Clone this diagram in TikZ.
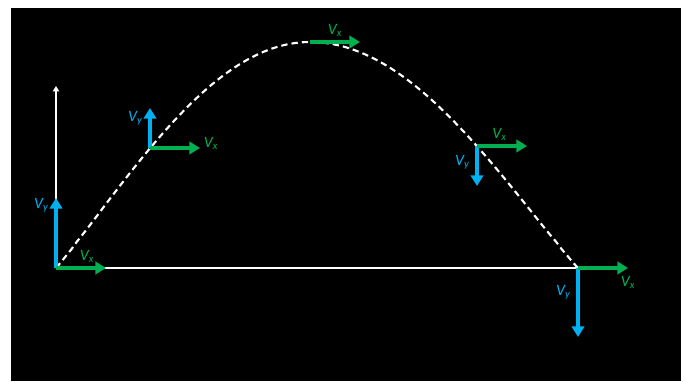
\documentclass[tikz,border=0pt]{standalone}
\usepackage{fontspec}
\setmainfont{Carlito}
\usepackage{xcolor}
\definecolor{pjblue}{RGB}{0,176,240}
\definecolor{pjgreen}{RGB}{0,176,80}
\usepackage{tikz}
\usetikzlibrary{arrows.meta,positioning,calc}
\tikzset{
  vyarr/.style={draw=pjblue, line width=2.3pt,
                -{Triangle[length=6pt, width=7pt]}},
  vxarr/.style={draw=pjgreen, line width=2.3pt,
                -{Triangle[length=6pt, width=7pt]}},
  vylbl/.style={text=pjblue, font=\fontsize{9}{10}\selectfont, inner sep=1pt},
  vxlbl/.style={text=pjgreen, font=\fontsize{9}{10}\selectfont, inner sep=1pt},
  groundline/.style={draw=white, line width=1.1pt},
  traj/.style={draw=white, line width=1.2pt, dash pattern=on 3.6pt off 2.3pt},
}
\newcommand{\vel}[1]{\itshape V\textsubscript{#1}}

\begin{document}
\begin{tikzpicture}

\useasboundingbox (-1.12,-2.26) rectangle (12.6,5.36);
\fill[black] (-0.9,-2.26) rectangle (12.5,5.2);

% points on the path
\coordinate (o) at (0,0);
\coordinate (ax) at (0,3.64);
\coordinate (e) at (10.44,0);
\coordinate (top) at (5.08,4.52);
\coordinate (p1) at (1.88,2.4);
\coordinate (p2) at (8.42,2.44);

% axis and ground
\draw[draw=white, line width=0.9pt, -{Triangle[length=3pt, width=3.5pt]}] (o) -- (ax);
\draw[groundline] (o) -- (e);

% trajectory
\draw[traj] plot[domain=0:5.08, samples=50] (\x, {4.52*sin(90*\x/5.08)^1.06})
  -- plot[domain=5.08:10.44, samples=50] (\x, {4.52*sin(90*(10.44-\x)/5.36)^1.06});

% launch
\coordinate (vy0) at ($(o)+(0,1.4)$);
\coordinate (vx0) at ($(o)+(1.0,0)$);
\draw[vyarr] (o) -- (vy0) node[vylbl, pos=0.9, left=2pt] {\vel{y}};
\draw[vxarr] (o) -- (vx0) node[vxlbl, pos=0.62, above=1pt] {\vel{x}};

% rising
\coordinate (vy1) at ($(p1)+(0,0.8)$);
\coordinate (vx1) at ($(p1)+(1.0,0)$);
\draw[vyarr] (p1) -- (vy1) node[vylbl, pos=0.75, left=2pt] {\vel{y}};
\draw[vxarr] (p1) -- (vx1) node[vxlbl, pos=1, right=0pt, yshift=2.5pt] {\vel{x}};

% top
\coordinate (vx2) at ($(top)+(1.0,0)$);
\draw[vxarr] (top) -- (vx2) node[vxlbl, pos=0.5, above=1pt] {\vel{x}};

% falling
\coordinate (vy3) at ($(p2)+(0,-0.8)$);
\coordinate (vx3) at ($(p2)+(1.0,0)$);
\draw[vyarr] (p2) -- (vy3) node[vylbl, pos=0.4, left=2pt] {\vel{y}};
\draw[vxarr] (p2) -- (vx3) node[vxlbl, pos=0.45, above=1pt] {\vel{x}};

% landing
\coordinate (vy4) at ($(e)+(0,-1.38)$);
\coordinate (vx4) at ($(e)+(1.0,0)$);
\draw[vyarr] (e) -- (vy4) node[vylbl, pos=0.35, left=2pt] {\vel{y}};
\draw[vxarr] (e) -- (vx4) node[vxlbl, pos=1, below=2.5pt] {\vel{x}};

\end{tikzpicture}
\end{document}
